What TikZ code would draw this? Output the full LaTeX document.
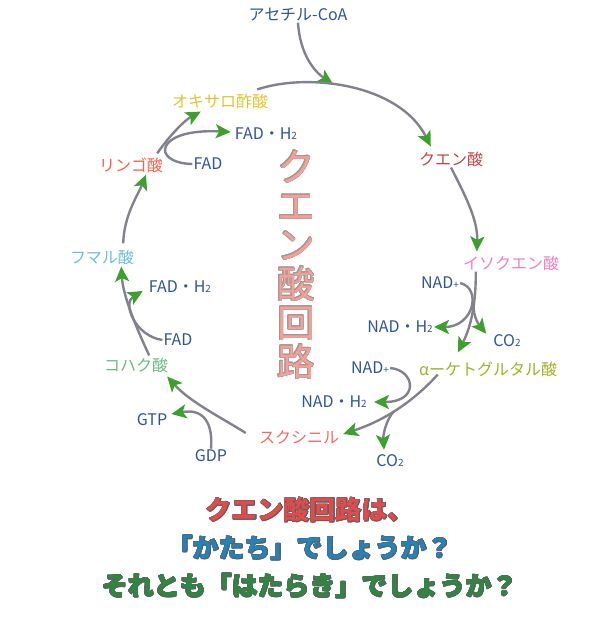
\documentclass[tikz,border=0pt]{standalone}
\usepackage{fontspec}
\setmainfont{Noto Sans CJK JP}
\usepackage{contour}
\usetikzlibrary{arrows.meta,calc}

\definecolor{linegray}{RGB}{130,130,142}
\definecolor{tipgreen}{RGB}{60,160,45}
\definecolor{molblue}{RGB}{45,85,150}
\definecolor{oxaloyellow}{RGB}{225,195,50}
\definecolor{citricred}{RGB}{190,70,70}
\definecolor{isocitpink}{RGB}{245,125,190}
\definecolor{akgolive}{RGB}{160,175,40}
\definecolor{succoasalmon}{RGB}{245,105,95}
\definecolor{succingreen}{RGB}{110,185,130}
\definecolor{fumaricblue}{RGB}{105,190,215}
\definecolor{malicred}{RGB}{245,95,75}
\definecolor{titlepink}{RGB}{245,160,150}
\definecolor{edgegray}{RGB}{160,150,150}
\definecolor{qedge}{RGB}{95,95,95}
\definecolor{qred}{RGB}{225,75,75}
\definecolor{qblue}{RGB}{35,130,185}
\definecolor{qgreen}{RGB}{45,135,65}

\newcommand{\lowtwo}{{\fontsize{10}{10}\selectfont 2}}
\newcommand{\smallplus}{{\fontsize{10}{10}\selectfont +}}
\newcommand{\titlechar}[1]{\contourlength{0.6pt}\contour{edgegray}{\textcolor{titlepink}{#1}}}
\newcommand{\qline}[2]{\contourlength{0.4pt}\contour{qedge}{\textcolor{#1}{#2}}}

\begin{document}
\begin{tikzpicture}[
x=1pt,y=-1pt,
lbl/.style={inner sep=1pt,font=\fontsize{16}{16}\selectfont},
mol/.style={lbl,text=molblue},
flow/.style={draw=linegray,line width=2.4pt,
-{Stealth[length=15pt,width=14pt,inset=3.5pt,color=tipgreen]}}
]

\useasboundingbox
(0,0)
rectangle
(594,622);

% Acides
\node[mol] (acoa) at (298,15) {アセチル-CoA};
\node[lbl,text=oxaloyellow] (oxalo) at (220,101) {オキサロ酢酸};
\node[lbl,text=citricred] (citric) at (451,159) {クエン酸};
\node[lbl,text=isocitpink] (isocit) at (511,263) {イソクエン酸};
\node[lbl,text=akgolive] (akg) at (488,369) {αーケトグルタル酸};
\node[lbl,text=succoasalmon] (succoa) at (299,437) {スクシニル};
\node[lbl,text=succingreen] (succin) at (136,365) {コハク酸};
\node[lbl,text=fumaricblue] (fumaric) at (102,257) {フマル酸};
\node[lbl,text=malicred] (malic) at (131,165) {リンゴ酸};

% Cofacteurs
\node[mol] (fadhA) at (266,134) {FAD・H\lowtwo};
\node[mol] (fadA) at (208,164) {FAD};
\node[mol] (nadA) at (440,283) {NAD\smallplus};
\node[mol] (nadhA) at (400,327) {NAD・H\lowtwo};
\node[mol] (co2A) at (507,341) {CO\lowtwo};
\node[mol] (nadB) at (370,368) {NAD\smallplus};
\node[mol] (nadhB) at (334,402) {NAD・H\lowtwo};
\node[mol] (co2B) at (390,461) {CO\lowtwo};
\node[mol] (gdp) at (211,456) {GDP};
\node[mol] (gtp) at (152,420) {GTP};
\node[mol] (fadB) at (178,340) {FAD};
\node[mol] (fadhB) at (180,287) {FAD・H\lowtwo};

% Titre
\node[align=center,
font=\fontsize{38}{39}\selectfont] (title)
at (296,265)
{\titlechar{ク}\\\titlechar{エ}\\\titlechar{ン}\\
\titlechar{酸}\\\titlechar{回}\\\titlechar{路}};

% Question
\node[align=center,font=\bfseries\fontsize{26}{38}\selectfont] (question)
at (310,548)
{\qline{qred}{クエン酸回路は、}\\
\qline{qblue}{「かたち」でしょうか？}\\
\qline{qgreen}{それとも「はたらき」でしょうか？}};

% Cycle
\coordinate (join) at (333,84);

\draw[flow]
(acoa.south)
.. controls (300,55) and (315,72) ..
(join);

\draw[flow]
($(oxalo.north east)+(-12,-3)$)
.. controls (310,72) and (400,85) ..
($(citric.north west)+(13,-4)$);

\draw[flow]
(citric.south)
.. controls (465,195) and (478,220) ..
($(isocit.north west)+(15,-3)$);

\draw[flow]
($(isocit.south west)+(14,0)$)
.. controls (476,300) and (472,325) ..
coordinate[pos=0.4] (forkA)
($(akg.north west)+(40,-8)$);

\draw[flow]
($(akg.south west)+(20,-3)$)
.. controls (410,405) and (380,422) ..
coordinate[pos=0.5] (forkB)
($(succoa.east)+(3,-3)$);

\draw[flow]
($(succoa.west)+(-12,-4)$)
.. controls (222,418) and (190,402) ..
($(succin.south east)+(-2,3)$);

\draw[flow]
($(succin.north east)+(-20,-1)$)
.. controls (135,325) and (123,295) ..
($(fumaric.south east)+(-14,1)$);

\draw[flow]
($(fumaric.north east)+(-12,-5)$)
.. controls (124,215) and (138,195) ..
($(malic.south)+(15,1)$);

\draw[flow]
($(malic.north east)+(-7,-3)$)
.. controls (170,135) and (185,120) ..
($(oxalo.south west)+(30,2)$);

% Branches
\draw[flow]
(nadA.east)
.. controls (482,288) and (474,327) ..
(nadhA.east);

\draw[flow]
(forkA)
.. controls (473,318) and (480,326) ..
($(co2A.north west)+(-6,0)$);

\draw[flow]
(nadB.east)
.. controls (415,370) and (420,402) ..
($(nadhB.east)+(6,0)$);

\draw[flow]
(forkB)
.. controls (386,420) and (383,435) ..
($(co2B.north)+(-6,-4)$);

\draw[flow]
(gdp.north)
.. controls (213,425) and (205,408) ..
($(gtp.east)+(3,-6)$);

\draw[flow]
(fadB.west)
.. controls (135,336) and (122,303) ..
($(fadhB.west)+(-5,4)$);

\draw[flow]
(fadA.west)
.. controls (150,163) and (155,128) ..
($(fadhA.west)+(-3,-2)$);

\end{tikzpicture}
\end{document}
